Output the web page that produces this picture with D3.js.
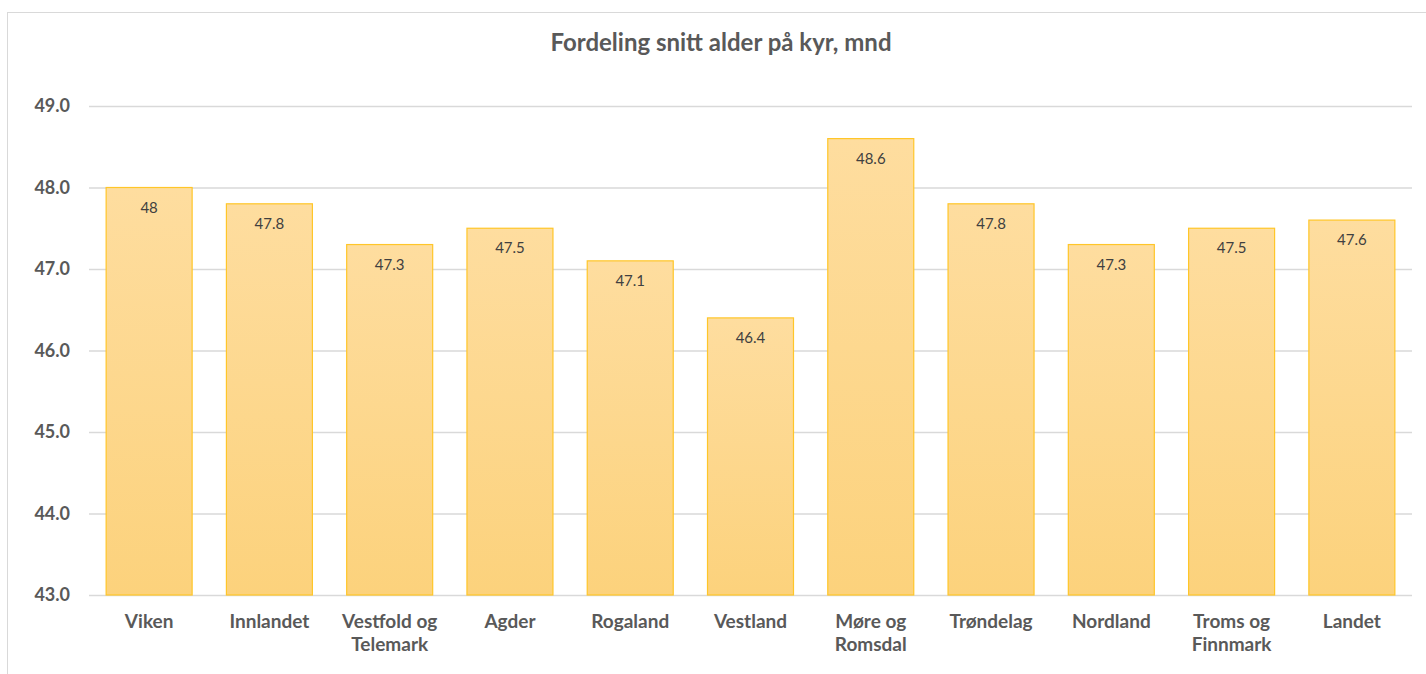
<!DOCTYPE html>
<html>
<head>
<meta charset="utf-8">
<script src="https://cdn.jsdelivr.net/npm/d3@7"></script>
<style>
  body { margin: 0; background: #fff; }
  svg { display: block; font-family: Lato, "Open Sans", sans-serif; }
</style>
</head>
<body>
<svg id="chart" width="1426" height="674"></svg>
<script>
let categories = ["Viken", "Innlandet", "Vestfold og Telemark", "Agder", "Rogaland",
  "Vestland", "Møre og Romsdal", "Trøndelag", "Nordland", "Troms og Finnmark", "Landet"]
let values = [48, 47.8, 47.3, 47.5, 47.1, 46.4, 48.6, 47.8, 47.3, 47.5, 47.6]
let yTicks = [43, 44, 45, 46, 47, 48, 49]
let title = "Fordeling snitt alder på kyr, mnd"

let margin = {top: 106, right: 14, bottom: 79, left: 89},
  width = 1426,
  height = 674

let svg = d3.select("#chart")

// chart frame
svg.append("rect")
  .attr("x", 7.5).attr("y", 12.5)
  .attr("width", 1430).attr("height", 680)
  .attr("fill", "none").attr("stroke", "#d9d9d9")

let grad = svg.append("defs").append("linearGradient")
  .attr("id", "barFill")
  .attr("x1", 0).attr("y1", 0).attr("x2", 0).attr("y2", 1)
grad.append("stop").attr("offset", "0%").attr("stop-color", "#fedd9f")
grad.append("stop").attr("offset", "100%").attr("stop-color", "#fcd27c")

let scales = {
  x: d3.scaleBand()
    .domain(categories)
    .range([margin.left, width - margin.right])
    .paddingInner(0.285)
    .paddingOuter(0.1425),
  y: d3.scaleLinear()
    .domain([43, 49])
    .range([height - margin.bottom, margin.top])
}

// gridlines + y labels
let yAxis = d3.axisLeft(scales.y)
  .tickValues(yTicks)
  .tickFormat(d3.format(".1f"))
  .tickSize(-(width - margin.right - margin.left))
  .tickPadding(19)

svg.append("g")
  .attr("transform", `translate(${margin.left}, 0)`)
  .call(yAxis)
  .call(g => g.select(".domain").remove())
  .call(g => g.selectAll("line").attr("stroke", "#d9d9d9").attr("stroke-width", 1.5))
  .call(g => g.selectAll("text")
    .attr("fill", "#595959")
    .attr("font-size", 18)
    .attr("font-weight", "bold")
    .attr("font-family", "Lato, sans-serif"))

// bars
svg.append("g")
  .selectAll("rect")
  .data(values)
  .join("rect")
  .attr("x", (d, i) => scales.x(categories[i]))
  .attr("y", d => scales.y(d))
  .attr("width", scales.x.bandwidth())
  .attr("height", d => scales.y(43) - scales.y(d))
  .attr("fill", "url(#barFill)")
  .attr("stroke", "#ffc629")
  .attr("stroke-width", 1.2)

// value labels
svg.append("g")
  .selectAll("text")
  .data(values)
  .join("text")
  .attr("x", (d, i) => scales.x(categories[i]) + scales.x.bandwidth() / 2)
  .attr("y", d => scales.y(d) + 25)
  .attr("text-anchor", "middle")
  .attr("font-size", 15)
  .attr("fill", "#404040")
  .text(d => d)

// category labels
let xg = svg.append("g")
  .selectAll("text")
  .data(categories)
  .join("text")
  .attr("x", d => scales.x(d) + scales.x.bandwidth() / 2)
  .attr("y", height - margin.bottom + 33)
  .attr("text-anchor", "middle")
  .attr("font-size", 19)
  .attr("font-weight", "bold")
  .attr("fill", "#595959")

xg.selectAll("tspan")
  .data(d => d.replace(" og ", " og\n").split("\n"))
  .join("tspan")
  .attr("x", function() { return this.parentNode.getAttribute("x") })
  .attr("dy", (d, i) => i == 0 ? 0 : 23)
  .text(d => d)

// title
svg.append("text")
  .attr("x", 721)
  .attr("y", 51)
  .attr("text-anchor", "middle")
  .attr("font-size", 24)
  .attr("font-weight", "bold")
  .attr("fill", "#595959")
  .text(title)
</script>
</body>
</html>
